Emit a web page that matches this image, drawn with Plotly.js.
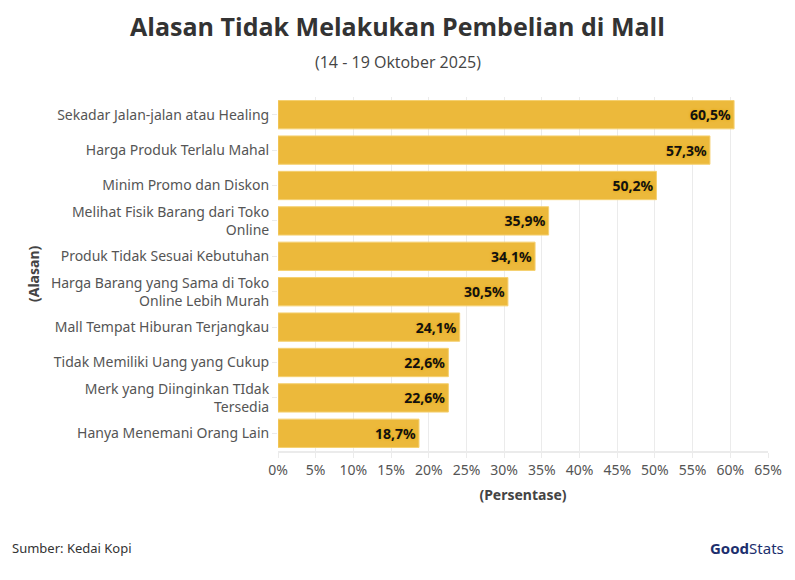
<!DOCTYPE html>
<html><head><meta charset="utf-8">
<script src="https://cdn.plot.ly/plotly-3.0.1.min.js"></script>
<style>body{margin:0;background:#fff}#c{width:795px;height:580px}</style>
</head><body><div id="c"></div>
<script>
const categories = [
  "Sekadar Jalan-jalan atau Healing",
  "Harga Produk Terlalu Mahal",
  "Minim Promo dan Diskon",
  "Melihat Fisik Barang dari Toko<br>Online",
  "Produk Tidak Sesuai Kebutuhan",
  "Harga Barang yang Sama di Toko<br>Online Lebih Murah",
  "Mall Tempat Hiburan Terjangkau",
  "Tidak Memiliki Uang yang Cukup",
  "Merk yang Diinginkan TIdak<br>Tersedia",
  "Hanya Menemani Orang Lain"
];
const values = [60.5, 57.3, 50.2, 35.9, 34.1, 30.5, 24.1, 22.6, 22.6, 18.7];
const labels = values.map(v => v.toFixed(1).replace('.', ',') + '%');
const tickVals = [0,5,10,15,20,25,30,35,40,45,50,55,60,65];
const tickText = tickVals.map(v => v + '%');

const font = "Noto Sans, sans-serif";
const trace = {
  type: 'bar', orientation: 'h',
  x: values, y: categories, text: labels,
  textposition: 'inside', insidetextanchor: 'end', textangle: 0,
  constraintext: 'none',
  textfont: {family: font, size: 14, color: '#111', weight: 700, shadow: '0px 0px 3px #e0a000'},
  marker: {color: '#ecb93b', line: {color: '#f5d070', width: 1}},
  hoverinfo: 'skip', cliponaxis: false
};
const layout = {
  width: 795, height: 580,
  margin: {l: 278, r: 27, t: 97, b: 129},
  paper_bgcolor: '#fff', plot_bgcolor: '#fff',
  bargap: 0.2,
  font: {family: font, color: '#555'},
  title: {text: '<b>Alasan Tidak Melakukan Pembelian di Mall</b>', x: 0.5, xanchor: 'center', y: 0.953, yanchor: 'middle',
    font: {family: "Open Sans, sans-serif", size: 25, color: '#333'}},
  xaxis: {range: [0, 65], tickvals: tickVals, ticktext: tickText, showgrid: true, gridcolor: '#ebebeb', gridwidth: 1,
    zeroline: false, showline: true, linecolor: '#ebebeb', linewidth: 2, ticks: 'outside', ticklen: 5, tickcolor: '#ebebeb',
    tickfont: {size: 14, color: '#555'},
    title: {text: '<b>(Persentase)</b>', font: {size: 14, color: '#444'}, standoff: 12}, fixedrange: true},
  yaxis: {autorange: 'reversed', ticks: 'outside', ticklen: 5, tickcolor: '#ebebeb', showline: false, showgrid: false,
    tickfont: {size: 14, color: '#555'}, fixedrange: true},
  annotations: [
    {text: '(14 - 19 Oktober 2025)', xref: 'paper', yref: 'paper', x: 0.244, y: 1, xanchor: 'center', yanchor: 'middle',
      yshift: 35, showarrow: false, font: {family: "Open Sans, sans-serif", size: 16, color: '#444'}},
    {text: '<b>(Alasan)</b>', xref: 'paper', yref: 'paper', x: -0.5, y: 0.5, xanchor: 'center', yanchor: 'middle',
      textangle: -90, showarrow: false, font: {size: 14, color: '#444'}},
    {text: 'Sumber: Kedai Kopi', xref: 'paper', yref: 'paper', x: 0, xshift: -268, y: 0, yshift: -97, xanchor: 'left', yanchor: 'middle',
      showarrow: false, font: {size: 13, color: '#333'}},
    {text: '<b>Good</b>Stats', xref: 'paper', yref: 'paper', x: 1, xshift: 18, y: 0, yshift: -97, xanchor: 'right', yanchor: 'middle',
      showarrow: false, font: {size: 15, color: '#1c2f6e'}}
  ]
};
Plotly.newPlot('c', [trace], layout, {displayModeBar: false, staticPlot: true});
</script>
</body></html>
